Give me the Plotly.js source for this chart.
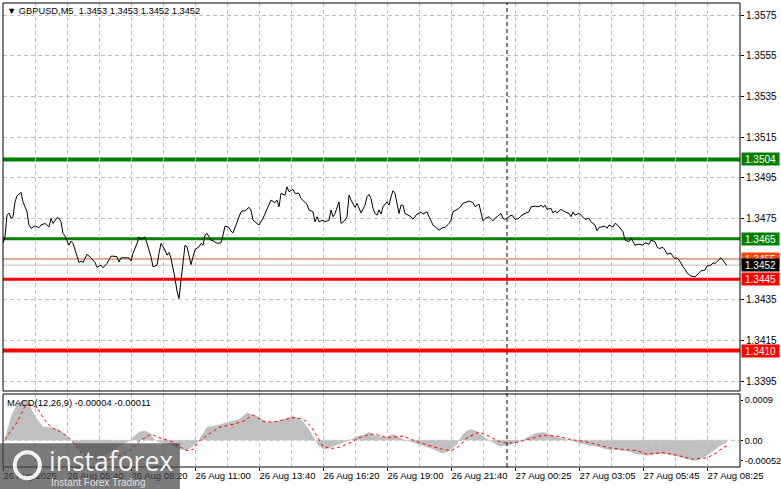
<!DOCTYPE html>
<html>
<head>
<meta charset="utf-8">
<script src="https://cdn.plot.ly/plotly-3.0.1.min.js"></script>
<style>html,body{margin:0;padding:0;background:#fff;}#chart{width:781px;height:489px;}</style>
</head>
<body>
<div id="chart"></div>
<script>
// ---- DATA (M5 bars counted from 26 Aug 03:00) ----
const priceBars = [0,1,2,3,4,5,6,7,9,10,11,12,13,14,16,18,19,21,23,24,25,27,28,29,30,31,33,34,35,37,38,39,40,42,44,46,47,49,50,52,54,55,57,58,59,61,63,64,65,67,68,69,71,72,74,75,77,78,79,81,82,83,84,86,87,88,89,90,91,92,93,94,96,98,99,100,101,102,104,105,107,109,110,111,113,114,115,117,119,120,121,123,124,125,126,128,130,132,134,136,137,138,139,141,142,143,145,146,148,149,151,152,153,155,156,157,158,160,161,163,164,165,166,167,168,169,171,172,173,174,175,176,177,178,179,181,182,183,184,185,186,187,188,189,190,192,193,194,195,196,197,198,199,200,201,203,204,205,207,208,209,210,212,213,215,217,218,220,221,223,224,225,226,228,229,230,232,233,235,236,238,239,240,241,243,245,246,248,249,250,251,253,254,255,256,258,259,261,263,264,266,268,269,270,271,272,274,275,276,277,278,279,281,283,284,285,286,288,289,291,293,294,296,297,298,299,301,302,303,305,306,307,308,310,311,313,314,315,316,318,320,321,323,324,326,327,328,330,331,332,334,335,336,337,338,340,341,342,344,346,347,349,351,352,354,355,356,358,359,360,361,362];
const closePrices = [1.34628,1.34659,1.34766,1.34776,1.34751,1.34758,1.34831,1.34861,1.34878,1.34831,1.34807,1.34782,1.34717,1.34701,1.34713,1.34704,1.34717,1.34725,1.34708,1.34750,1.34725,1.34753,1.34750,1.34733,1.34676,1.34663,1.34618,1.34638,1.34627,1.34561,1.34533,1.34540,1.34533,1.34573,1.34556,1.34533,1.34509,1.34520,1.34507,1.34528,1.34564,1.34564,1.34561,1.34536,1.34556,1.34556,1.34556,1.34540,1.34578,1.34627,1.34659,1.34646,1.34659,1.34627,1.34561,1.34512,1.34520,1.34578,1.34627,1.34594,1.34569,1.34582,1.34553,1.34455,1.34392,1.34356,1.34455,1.34545,1.34618,1.34610,1.34561,1.34523,1.34597,1.34610,1.34627,1.34618,1.34668,1.34676,1.34643,1.34640,1.34627,1.34630,1.34668,1.34712,1.34705,1.34687,1.34679,1.34733,1.34782,1.34787,1.34787,1.34804,1.34791,1.34741,1.34733,1.34717,1.34750,1.34799,1.34840,1.34827,1.34840,1.34807,1.34873,1.34864,1.34905,1.34881,1.34892,1.34873,1.34873,1.34848,1.34831,1.34819,1.34791,1.34782,1.34733,1.34758,1.34733,1.34741,1.34733,1.34741,1.34791,1.34758,1.34774,1.34799,1.34831,1.34725,1.34741,1.34758,1.34864,1.34840,1.34824,1.34804,1.34824,1.34799,1.34777,1.34815,1.34856,1.34868,1.34848,1.34799,1.34774,1.34766,1.34791,1.34771,1.34807,1.34831,1.34815,1.34856,1.34886,1.34873,1.34824,1.34774,1.34815,1.34815,1.34774,1.34766,1.34758,1.34746,1.34771,1.34774,1.34782,1.34771,1.34782,1.34758,1.34717,1.34701,1.34692,1.34705,1.34705,1.34725,1.34741,1.34782,1.34787,1.34799,1.34810,1.34824,1.34831,1.34835,1.34827,1.34807,1.34820,1.34782,1.34738,1.34750,1.34758,1.34738,1.34750,1.34766,1.34774,1.34750,1.34745,1.34758,1.34766,1.34761,1.34745,1.34750,1.34763,1.34774,1.34782,1.34807,1.34810,1.34807,1.34815,1.34804,1.34815,1.34794,1.34799,1.34777,1.34787,1.34777,1.34786,1.34794,1.34782,1.34774,1.34758,1.34782,1.34766,1.34774,1.34766,1.34745,1.34750,1.34733,1.34717,1.34689,1.34705,1.34708,1.34712,1.34701,1.34717,1.34708,1.34725,1.34720,1.34708,1.34684,1.34643,1.34635,1.34654,1.34635,1.34618,1.34623,1.34618,1.34630,1.34623,1.34643,1.34635,1.34610,1.34602,1.34607,1.34594,1.34574,1.34578,1.34561,1.34553,1.34556,1.34545,1.34512,1.34500,1.34482,1.34466,1.34462,1.34471,1.34492,1.34495,1.34515,1.34520,1.34531,1.34528,1.34545,1.34556,1.34545,1.34528,1.34520];

const macdBars = [1,4,7,10,13,14,17,20,24,28,32,34,38,44,48,54,58,64,65,68,71,74,76,78,84,88,92,96,98,99,102,107,112,118,122,127,132,137,145,150,153,156,158,161,165,168,173,177,180,183,187,191,195,198,201,206,211,216,220,223,227,228,230,232,234,237,240,243,246,248,252,256,260,262,266,270,273,277,281,283,288,293,298,302,307,312,317,322,327,332,337,342,347,353,358,362];
const macdMain = [0.00002,0.00047,0.00070,0.00078,0.00078,0.00062,0.00041,0.00027,0.00025,0.00021,0.00008,0,-0.00019,-0.00035,-0.00034,-0.00023,-0.00011,0,0.00006,0.00016,0.00019,0.00012,0,-0.00004,-0.00008,-0.00018,-0.00019,-0.00009,0,0.00008,0.00026,0.00029,0.00035,0.00041,0.00054,0.00047,0.00035,0.00037,0.00047,0.00037,0.00021,0,-0.00012,-0.00018,-0.00013,-0.00008,0,0.00008,0.00010,0.00016,0.00008,0.00006,0.00012,0.00006,0,-0.00006,-0.00012,-0.00019,-0.00026,-0.00021,-0.00008,0,0.00012,0.00019,0.00021,0.00018,0.00008,0,-0.00008,-0.00012,-0.00010,-0.00006,0,0.00006,0.00013,0.00016,0.00012,0.00006,0.00002,0,-0.00006,-0.00010,-0.00013,-0.00018,-0.00019,-0.00021,-0.00027,-0.00030,-0.00026,-0.00027,-0.00031,-0.00037,-0.00040,-0.00027,-0.00012,-0.00004];

const signalBars = [1,7,11,13,17,20,24,28,32,35,38,44,48,54,58,64,68,74,78,84,88,92,95,98,104,108,115,120,125,130,135,140,145,150,154,157,160,164,168,174,178,184,188,192,200,208,215,220,224,228,232,238,243,248,252,257,263,270,277,283,290,297,302,310,317,322,330,338,345,352,357,360,362];
const macdSignal = [0.00002,0.00035,0.00066,0.00070,0.00064,0.00044,0.00025,0.00018,0.00008,-0.00004,-0.00020,-0.00037,-0.00037,-0.00037,-0.00030,-0.00018,-0.00002,0.00012,0.00005,-0.00002,-0.00012,-0.00020,-0.00018,-0.00002,0.00015,0.00025,0.00031,0.00037,0.00049,0.00037,0.00035,0.00040,0.00044,0.00041,0.00027,0.00008,-0.00012,-0.00016,-0.00014,-0.00004,0.00005,0.00012,0.00010,0.00005,0.00008,-0.00004,-0.00012,-0.00018,-0.00020,-0.00012,0.00005,0.00016,0.00008,-0.00002,-0.00006,-0.00004,0.00002,0.00010,0.00008,0.00002,-0.00002,-0.00008,-0.00014,-0.00018,-0.00020,-0.00027,-0.00024,-0.00030,-0.00037,-0.00034,-0.00024,-0.00014,-0.00011];

const xTickBars = [0,32,64,96,128,160,192,224,256,288,320,352];
const xTickLabels = ["26 Aug 2025","26 Aug 05:40","26 Aug 08:20","26 Aug 11:00","26 Aug 13:40","26 Aug 16:20","26 Aug 19:00","26 Aug 21:40","27 Aug 00:25","27 Aug 03:05","27 Aug 05:45","27 Aug 08:25"];

const levelPrices = [1.3504, 1.3465, 1.3445, 1.3410];
const thinLevelPrice = 1.3455;
const bidPrice = 1.3452;
const separatorBar = 252;
const headerText = "GBPUSD,M5  1.3453 1.3453 1.3452 1.3452";
const macdText = "MACD(12,26,9) -0.00004 -0.00011";
const macdLabelVals = [0.00078, 0, -0.00040];
const macdLabelText = ["0.0009", "0.00", "-0.00052"];

// ---- STYLE ----
const FONT = "Liberation Sans, Arial, sans-serif";
const levelStyle = [
  {color: "#008000", width: 4},
  {color: "#008000", width: 3},
  {color: "#ff0000", width: 3},
  {color: "#ff0000", width: 4}
];
const GRID = "#c0c0c0";
const mainDomain = [0.1638, 1];
const macdDomain = [0, 0.1573];

const traces = [
  {x: macdBars, y: macdMain, xaxis: "x", yaxis: "y2", type: "scatter", mode: "lines",
   line: {width: 0, color: "#c0c0c0"}, fill: "tozeroy", fillcolor: "#c0c0c0", hoverinfo: "skip"},
  {x: signalBars, y: macdSignal, xaxis: "x", yaxis: "y2", type: "scatter", mode: "lines",
   line: {width: 1, color: "#ff0000", dash: "3px,3px"}, hoverinfo: "skip"},
  {x: priceBars, y: closePrices, xaxis: "x", yaxis: "y", type: "scatter", mode: "lines",
   line: {width: 1, color: "#000000"}, hoverinfo: "skip"}
];

const shapes = [];
levelPrices.forEach((p, i) => {
  shapes.push({type: "line", xref: "paper", yref: "y", x0: 0, x1: 1, y0: p, y1: p,
    line: {color: levelStyle[i].color, width: levelStyle[i].width}, layer: "below"});
});
shapes.push({type: "line", xref: "paper", yref: "y", x0: 0, x1: 1, y0: thinLevelPrice, y1: thinLevelPrice,
  line: {color: "#ff4500", width: 1}, layer: "below"});
shapes.push({type: "line", xref: "paper", yref: "y", x0: 0, x1: 1, y0: bidPrice, y1: bidPrice,
  line: {color: "#c0c0c0", width: 1}, layer: "below"});
shapes.push({type: "line", xref: "paper", yref: "y2", x0: 0, x1: 1, y0: 0, y1: 0,
  line: {color: GRID, width: 1, dash: "4px,3px"}, layer: "below"});
shapes.push({type: "line", xref: "x", yref: "paper", x0: separatorBar, x1: separatorBar, y0: 0, y1: 1,
  line: {color: "#000000", width: 1, dash: "4px,3px"}});
shapes.push({type: "rect", xref: "paper", yref: "paper", x0: 0, x1: 1, y0: mainDomain[0], y1: 1,
  line: {color: "#000", width: 1}, fillcolor: "rgba(0,0,0,0)"});
shapes.push({type: "rect", xref: "paper", yref: "paper", x0: 0, x1: 1, y0: 0, y1: macdDomain[1],
  line: {color: "#000", width: 1}, fillcolor: "rgba(0,0,0,0)"});
// watermark
shapes.push({type: "rect", xref: "paper", yref: "paper", x0: -0.005, x1: 0.240, y0: -0.048, y1: 0.051,
  line: {width: 0}, fillcolor: "rgba(70,70,70,0.72)"});
shapes.push({type: "circle", xref: "paper", yref: "paper", x0: 0.016, x1: 0.050, y0: -0.024, y1: 0.032,
  line: {color: "rgba(255,255,255,0.9)", width: 4}, fillcolor: "rgba(0,0,0,0)"});

const annotations = [];
annotations.push({xref: "paper", yref: "paper", x: 0, y: 1, xanchor: "left", yanchor: "top",
  xshift: 2, yshift: -1, showarrow: false, text: "▼ " + headerText,
  font: {family: FONT, size: 9.3, color: "#000"}});
annotations.push({xref: "paper", yref: "paper", x: 0, y: macdDomain[1], xanchor: "left", yanchor: "top",
  xshift: 2, yshift: -1, showarrow: false, text: macdText,
  font: {family: FONT, size: 9.4, color: "#000"}});
const labelBox = (p, bg) => ({xref: "paper", yref: "y", x: 1, y: p, xanchor: "left", yanchor: "middle",
  xshift: 1, showarrow: false, text: p.toFixed(4), bgcolor: bg, width: 35, height: 10, borderpad: 1,
  font: {family: FONT, size: 10, color: "#ffffff"}});
annotations.push(labelBox(thinLevelPrice, "#ff4500"));
levelPrices.forEach((p, i) => annotations.push(labelBox(p, levelStyle[i].color)));
annotations.push(labelBox(bidPrice, "#000000"));
annotations.push({xref: "paper", yref: "paper", x: 0.060, y: 0.012, xanchor: "left", yanchor: "middle",
  showarrow: false, text: "instaforex", font: {family: "Open Sans, sans-serif", size: 26.5, color: "rgba(255,255,255,0.92)"}});
annotations.push({xref: "paper", yref: "paper", x: 0.062, y: -0.033, xanchor: "left", yanchor: "middle",
  showarrow: false, text: "Instant Forex Trading", font: {family: FONT, size: 10, color: "rgba(235,235,235,0.9)"}});

const layout = {
  width: 781, height: 489,
  margin: {l: 3, r: 41, t: 3, b: 22, pad: 0},
  paper_bgcolor: "#fff", plot_bgcolor: "#fff",
  showlegend: false,
  font: {family: FONT, size: 10, color: "#000"},
  xaxis: {
    domain: [0, 1], range: [0, 368.5], anchor: "y2",
    tickmode: "array", tickvals: xTickBars, ticktext: xTickLabels,
    ticks: "outside", ticklen: 3, tickcolor: "#000", tickangle: 0,
    ticklabelposition: "outside right",
    tickfont: {family: FONT, size: 9.5, color: "#000"},
    showgrid: true, gridcolor: GRID, griddash: "4px,3px", gridwidth: 1,
    minor: {tickmode: "linear", tick0: 0, dtick: 16, showgrid: true, gridcolor: GRID, griddash: "4px,3px", ticks: ""},
    zeroline: false, showline: false, fixedrange: true, automargin: false
  },
  yaxis: {
    domain: mainDomain, range: [1.33901, 1.35809], anchor: "x", side: "right",
    tickmode: "linear", tick0: 1.3395, dtick: 0.002, tickformat: ".4f",
    ticks: "outside", ticklen: 3, tickcolor: "#000",
    tickfont: {family: FONT, size: 10, color: "#000"},
    showgrid: true, gridcolor: GRID, griddash: "4px,3px",
    zeroline: false, showline: false, automargin: false
  },
  yaxis2: {
    domain: macdDomain, range: [-0.00052, 0.0009], anchor: "x", side: "right",
    tickmode: "array", tickvals: macdLabelVals, ticktext: macdLabelText,
    ticks: "outside", ticklen: 2, tickcolor: "#000",
    tickfont: {family: FONT, size: 9.2, color: "#000"},
    showgrid: false, zeroline: false, showline: false, automargin: false
  },
  shapes: shapes,
  annotations: annotations
};

Plotly.newPlot("chart", traces, layout, {staticPlot: true, displayModeBar: false});
</script>
</body>
</html>
